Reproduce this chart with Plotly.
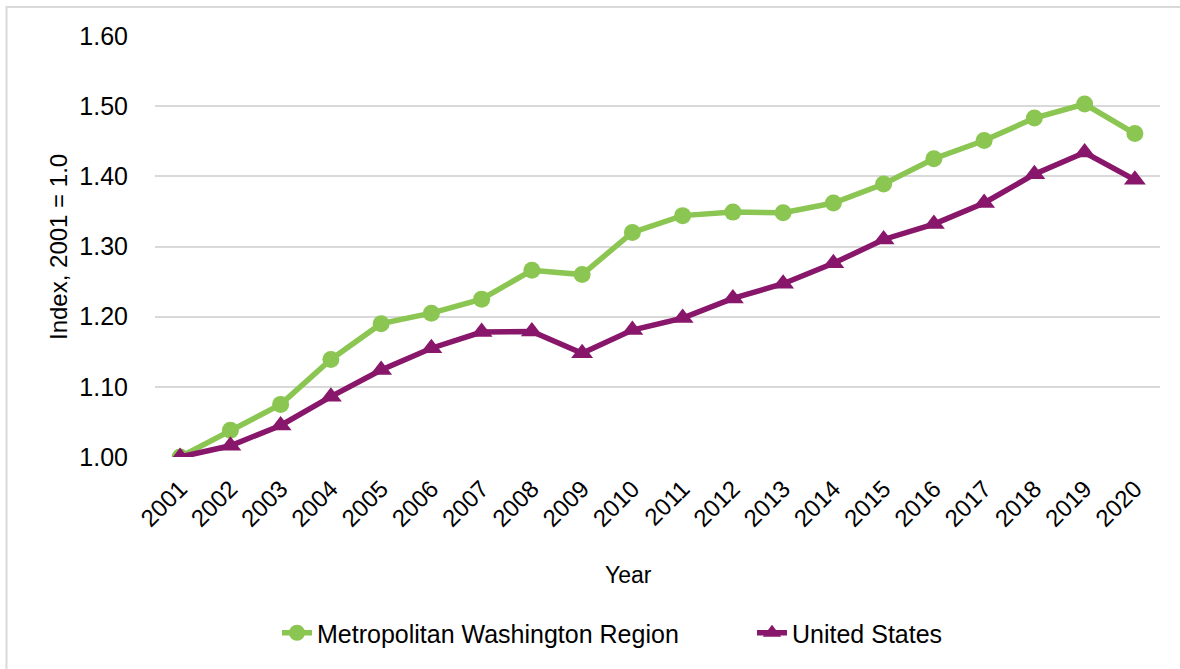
import plotly.graph_objects as go

years = list(range(2001, 2021))
metro_dc = [1.000, 1.038, 1.075, 1.139, 1.190, 1.205, 1.225, 1.266, 1.260, 1.320,
            1.344, 1.349, 1.348, 1.362, 1.389, 1.425, 1.451, 1.483, 1.503, 1.461]
us = [1.000, 1.016, 1.045, 1.086, 1.124, 1.155, 1.178, 1.179, 1.148, 1.181,
      1.198, 1.226, 1.247, 1.276, 1.310, 1.332, 1.362, 1.403, 1.434, 1.395]
y_ticks = [1.0, 1.1, 1.2, 1.3, 1.4, 1.5, 1.6]

GREEN = "#8BC652"
PURPLE = "#88166A"
AXFONT = "Liberation Sans, Arial, sans-serif"

W, H = 1180, 669
L, R, T, B = 155, 20, 36, 212
PW, PH = W - L - R, H - T - B

fig = go.Figure()
fig.add_trace(go.Scatter(
    x=years, y=metro_dc, name="Metropolitan Washington Region",
    mode="lines+markers", legend="legend",
    line=dict(color=GREEN, width=5.5),
    marker=dict(symbol="circle", size=17, color=GREEN),
))
fig.add_trace(go.Scatter(
    x=years, y=us, name="United States",
    mode="lines+markers", legend="legend2",
    line=dict(color=PURPLE, width=5.5),
    marker=dict(symbol="triangle-up", size=19, color=PURPLE),
))

leg_common = dict(orientation="h", xref="container", yref="container",
                  y=1 - 633 / H, xanchor="left", yanchor="middle",
                  font=dict(family=AXFONT, size=25, color="#000"),
                  bgcolor="rgba(0,0,0,0)")

fig.update_layout(
    width=W, height=H,
    margin=dict(l=L, r=R, t=T, b=B),
    paper_bgcolor="white", plot_bgcolor="white",
    showlegend=True,
    legend=dict(x=277 / W, **leg_common),
    legend2=dict(x=752 / W, **leg_common),
    xaxis=dict(
        range=[2000.5, 2020.5], tickmode="array", tickvals=years,
        ticktext=[str(y) for y in years], tickangle=-45,
        tickfont=dict(family=AXFONT, size=24, color="#000"),
        showgrid=False, zeroline=False, showline=False, ticks="",
        ticklabelstandoff=12,
    ),
    yaxis=dict(
        range=[1.0, 1.6], tickmode="array", tickvals=y_ticks,
        ticktext=[f"{v:.2f}" for v in y_ticks],
        tickfont=dict(family=AXFONT, size=25, color="#000"),
        showgrid=True, gridcolor="#d9d9d9", gridwidth=1.5,
        zeroline=False, showline=False, ticks="", ticklabelstandoff=26,
    ),
    shapes=[dict(type="rect", xref="paper", yref="paper",
                 x0=(6.5 - L) / PW, x1=(W + 5 - L) / PW,
                 y0=-2.0, y1=(H - B - 7) / PH,
                 line=dict(color="#d9d9d9", width=2), fillcolor="rgba(0,0,0,0)",
                 layer="below")],
    annotations=[
        dict(text="Index, 2001 = 1.0", xref="paper", yref="paper",
             x=(58 - L) / PW, y=(H - B - 247) / PH, textangle=-90, showarrow=False,
             xanchor="center", yanchor="middle",
             font=dict(family=AXFONT, size=24, color="#000")),
        dict(text="Year", xref="paper", yref="paper",
             x=(628 - L) / PW, y=-(575 - (H - B)) / PH, showarrow=False,
             xanchor="center", yanchor="middle",
             font=dict(family=AXFONT, size=23, color="#000")),
    ],
)

fig.write_html("out.html", config={"displayModeBar": False},
               post_script="document.body.style.margin='0';")
